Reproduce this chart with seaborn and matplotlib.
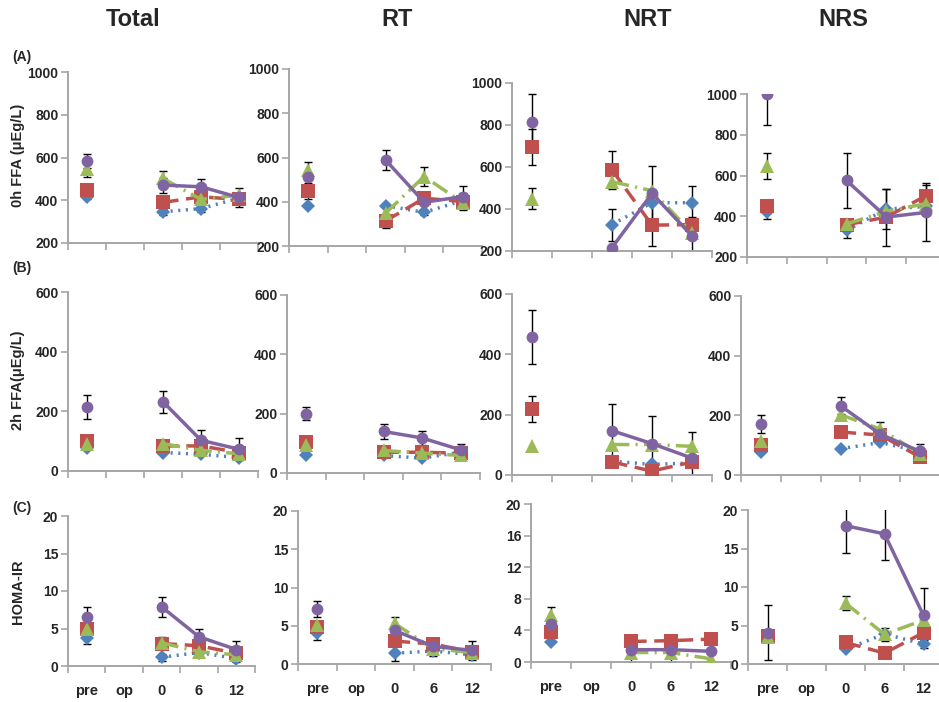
import numpy as np
import pandas as pd
import matplotlib
matplotlib.use("Agg")
import matplotlib.pyplot as plt
import seaborn as sns

sns.set_theme(style="white")
plt.rcParams['font.family'] = ['Liberation Sans', 'DejaVu Sans']

# ---------------- data ----------------
columns = ["Total", "RT", "NRT", "NRS"]
x_labels = ["pre", "op", "0", "6", "12"]
time_points = ["pre", "0", "6", "12"]
series_names = ["blue", "red", "green", "purple"]
row_tags = ["(A)", "(B)", "(C)"]
row_ylabels = ["0h FFA (\u03bcEg/L)", "2h FFA(\u03bcEg/L)", "HOMA-IR"]
nan = np.nan

# 0h FFA means (pre, 0, 6, 12) per series: blue, red, green, purple
ffa0_total = [[416, 346, 361, 410], [448, 390, 416, 404], [545, 502, 404, 424], [585, 471, 463, 413]]
ffa0_total_err = [[12, 15, 15, nan], [nan, nan, nan, nan], [35, 35, nan, nan], [32, 35, 38, 45]]
ffa0_rt = [[383, 383, 352, 405], [449, 313, 416, 401], [544, 348, 514, 396], [514, 589, 398, 423]]
ffa0_rt_err = [[nan, nan, 10, nan], [35, 33, nan, 40], [35, nan, 42, nan], [nan, 46, nan, 46]]
ffa0_nrt = [[nan, 326, 430, 430], [694, 586, 323, 326], [450, 530, 487, 286], [812, 216, 474, 272]]
ffa0_nrt_err = [[nan, 76, nan, 79], [85, 90, 100, nan], [52, nan, nan, nan], [138, nan, 131, 92]]
ffa0_nrs = [[421, 331, 435, 448], [448, 358, 396, 501], [648, 362, 424, 462], [1000, 576, 396, 419]]
ffa0_nrs_err = [[35, 38, 99, nan], [25, nan, nan, 51], [63, nan, nan, nan], [151, 136, 140, 142]]

# 2h FFA
ffa2_total = [[76, 62, 56, 45], [101, 84, 84, 62], [92, 92, 69, 58], [215, 232, 103, 73]]
ffa2_total_err = [[nan, nan, nan, nan], [nan, nan, nan, nan], [nan, nan, nan, nan], [40, 37, 35, 37]]
ffa2_rt = [[61, 59, 50, 70], [104, 70, 70, 67], [93, 76, 67, 59], [200, 140, 118, 78]]
ffa2_rt_err = [[nan, nan, nan, nan], [nan, nan, nan, nan], [nan, nan, nan, nan], [23, 24, 22, 20]]
ffa2_nrt = [[nan, 46, 35, 40], [219, 43, 13, 43], [95, 101, 101, 95], [457, 147, 104, 56]]
ffa2_nrt_err = [[nan, nan, nan, nan], [44, nan, nan, nan], [nan, nan, nan, nan], [90, 89, 91, 86]]
ffa2_nrs = [[76, 88, 109, 79], [102, 144, 134, 60], [113, 202, 154, 71], [172, 232, 137, 79]]
ffa2_nrs_err = [[nan, nan, nan, nan], [nan, nan, nan, 16], [nan, nan, 23, nan], [30, 28, nan, 26]]

# HOMA-IR
homa_total = [[3.7, 1.16, 1.8, 1.0], [4.9, 3.0, 2.7, 1.7], [5.0, 3.1, 1.9, 1.5], [6.6, 7.9, 3.9, 2.2]]
homa_total_err = [[0.7, 0.5, nan, nan], [nan, nan, nan, nan], [nan, 0.8, 0.7, 0.9], [1.3, 1.3, 1.1, 1.2]]
homa_rt = [[4.0, 1.4, 1.7, 1.2], [4.9, 3.0, 2.6, 1.6], [5.1, 5.3, 2.0, 1.5], [7.2, 4.4, 2.3, 1.8]]
homa_rt_err = [[0.8, 1.0, 0.6, 0.7], [nan, nan, nan, nan], [nan, 0.9, nan, nan], [1.0, nan, nan, 1.2]]
homa_nrt = [[2.5, nan, nan, nan], [3.75, 2.6, 2.7, 2.9], [5.9, 1.2, 1.2, 0.4], [4.8, 1.56, 1.56, 1.35]]
homa_nrt_err = [[nan, nan, nan, nan], [nan, nan, nan, nan], [1.1, 1.2, 1.2, nan], [nan, nan, nan, nan]]
homa_nrs = [[3.5, 1.9, 3.9, 2.6], [3.7, 2.8, 1.4, 4.07], [3.55, 7.9, 3.85, 5.7], [4.07, 17.96, 16.9, 6.3]]
homa_nrs_err = [[nan, nan, nan, 0.5], [nan, nan, nan, nan], [nan, 0.95, 0.85, nan], [3.6, 3.6, 3.4, 3.6]]

# ---------------- styling ----------------
colors = {"blue": "#4F81BD", "red": "#C0504D", "green": "#9BBB59", "purple": "#8064A2"}
markers = {"blue": "D", "red": "s", "green": "^", "purple": "o"}
msizes = {"blue": 7, "red": 10, "green": 10, "purple": 8.5}
lstyles = {"blue": (0, (0.6, 1.6)), "red": (0, (4.5, 2.2)), "green": (0, (5, 1.8, 0.6, 1.8)), "purple": "-"}

W, H = 939, 702
fig = plt.figure(figsize=(W / 100, H / 100), dpi=100)

def rect(l, t, r, b):
    return [l / W, 1 - b / H, (r - l) / W, (b - t) / H]

layout = [
    [(68, 72, 258, 243), (289, 69, 482, 246), (512, 83, 712, 251), (747, 94, 946, 257)],
    [(68, 292, 258, 471), (287, 295, 480, 473), (512, 294, 712, 475), (741, 296, 940, 475)],
    [(68, 516, 255, 666), (298, 511, 491, 664), (531, 504, 731, 662), (748, 510, 943, 664)],
]

panels = [
    [(ffa0_total, ffa0_total_err), (ffa0_rt, ffa0_rt_err), (ffa0_nrt, ffa0_nrt_err), (ffa0_nrs, ffa0_nrs_err)],
    [(ffa2_total, ffa2_total_err), (ffa2_rt, ffa2_rt_err), (ffa2_nrt, ffa2_nrt_err), (ffa2_nrs, ffa2_nrs_err)],
    [(homa_total, homa_total_err), (homa_rt, homa_rt_err), (homa_nrt, homa_nrt_err), (homa_nrs, homa_nrs_err)],
]

row_ylims = [(200, 1000), (0, 600), (0, 20)]
row_yticks = [[200, 400, 600, 800, 1000], [0, 200, 400, 600], [0, 5, 10, 15, 20]]

xpos_map = {"pre": 0, "op": 1, "0": 2, "6": 3, "12": 4}
xpos = [xpos_map[t] for t in time_points]
segment = [0, 1, 1, 1]
spine_c = "#A6A6A6"

for r in range(3):
    for c in range(4):
        ax = fig.add_axes(rect(*layout[r][c]))
        ax.patch.set_alpha(0)
        means, errs = panels[r][c]
        for i, name in enumerate(series_names):
            df = pd.DataFrame({"x": xpos, "y": means[i], "seg": segment}).dropna()
            e = np.array(errs[i], dtype=float)
            ok = ~np.isnan(e) & ~np.isnan(np.array(means[i], dtype=float))
            if ok.any():
                ax.errorbar(np.array(xpos)[ok], np.array(means[i], dtype=float)[ok], yerr=e[ok],
                            fmt="none", ecolor="black", elinewidth=1, capsize=3.2, capthick=1, zorder=1)
            sns.lineplot(data=df, x="x", y="y", units="seg", estimator=None, sort=False,
                         color=colors[name], linestyle=lstyles[name], linewidth=2.5,
                         marker=markers[name], markersize=msizes[name], markeredgewidth=0,
                         legend=False, ax=ax, zorder=2 + i)
        ax.set_xlim(-0.5, 4.5)
        ax.set_ylim(*row_ylims[r])
        yt = row_yticks[r]
        if r == 2 and c == 2:
            yt = [0, 4, 8, 12, 16, 20]
        ax.set_yticks(yt)
        ax.set_yticklabels([str(v) for v in yt], fontsize=10, fontweight="bold")
        ax.set_xticks([-0.5, 0.5, 1.5, 2.5, 3.5, 4.5])
        ax.set_xticklabels([])
        ax.set_xticks(range(5), minor=True)
        if r == 2:
            ax.set_xticklabels(x_labels, minor=True, fontsize=10.5, fontweight="bold")
        ax.tick_params(axis="x", which="major", direction="out", length=5, width=1.2, color=spine_c, bottom=True)
        ax.tick_params(axis="x", which="minor", length=0, pad=13)
        ax.tick_params(axis="y", direction="out", length=5, width=1.2, color=spine_c, left=True, pad=2)
        ax.set_xlabel("")
        ax.set_ylabel("")
        for s in ["top", "right"]:
            ax.spines[s].set_visible(False)
        for s in ["left", "bottom"]:
            ax.spines[s].set_color(spine_c)
            ax.spines[s].set_linewidth(1.4)

title_x = [133, 397, 648, 843]
for name, x in zip(columns, title_x):
    fig.text(x / W, 1 - 19 / H, name, ha="center", va="center", fontsize=17, fontweight="bold")

tag_y = [57, 268, 508]
for tag, y in zip(row_tags, tag_y):
    fig.text(12 / W, 1 - y / H, tag, ha="left", va="center", fontsize=10, fontweight="bold")

ylab_y = [155, 380, 592]
for lab, y in zip(row_ylabels, ylab_y):
    fig.text(18 / W, 1 - y / H, lab, ha="center", va="center", rotation=90, fontsize=10.5, fontweight="bold")

fig.savefig("out.png", dpi=100)
